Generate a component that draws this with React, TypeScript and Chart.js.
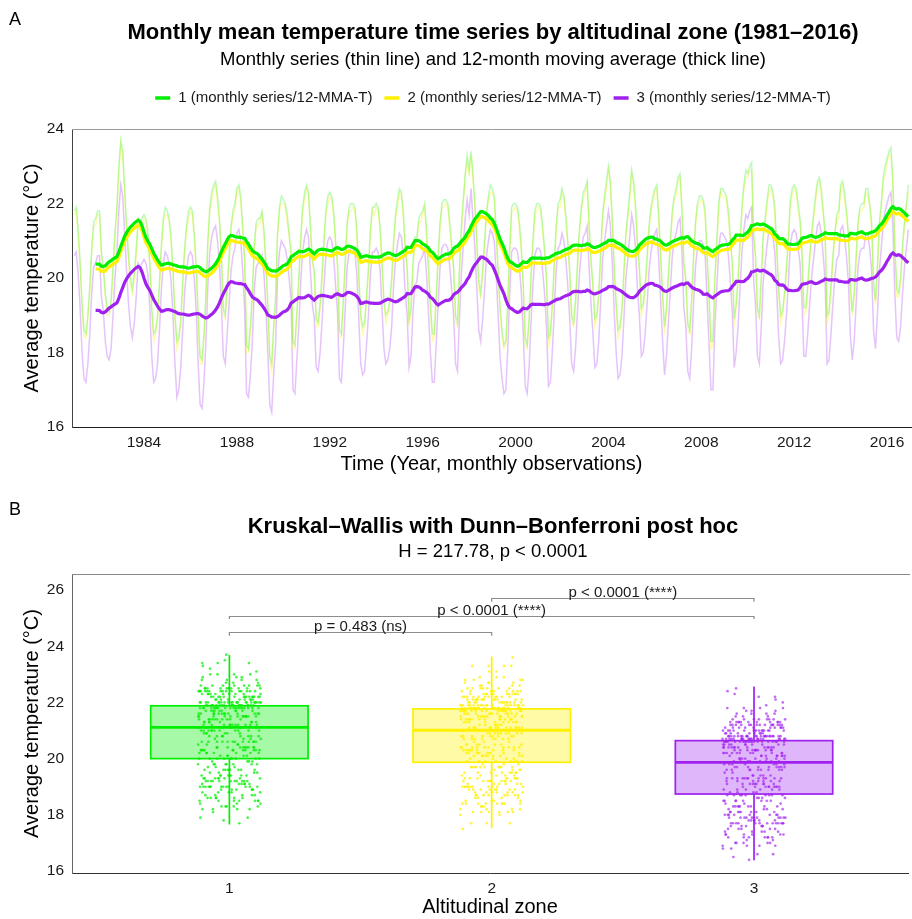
import React, { useEffect, useRef } from 'react';
import { Chart, registerables } from 'chart.js';

Chart.register(...registerables);

const FONT = "'Liberation Sans', Arial, Helvetica, sans-serif";
Chart.defaults.font.family = FONT;

// ---------- data ----------
const startYear = 1981;
const zoneNames = ['1', '2', '3'];
const legendSuffix = '(monthly series/12-MMA-T)';
const yearTicks = [1984, 1988, 1992, 1996, 2000, 2004, 2008, 2012, 2016];
const tempTicksA = [16, 18, 20, 22, 24];
const tempTicksB = [16, 18, 20, 22, 24, 26];
const zoneTicks = [1, 2, 3];

const titleA = 'Monthly mean temperature time series by altitudinal zone (1981–2016)';
const subtitleA = 'Monthly series (thin line) and 12-month moving average (thick line)';
const titleB = 'Kruskal–Wallis with Dunn–Bonferroni post hoc';
const subtitleB = 'H = 217.78, p < 0.0001';

// monthly mean temperature, Jan 1981 .. Dec 2016 (one row per year)
const zone1Monthly = [
  21.8, 21.9, 21.3, 20.4, 19.3, 18.6, 18.5, 19.0, 19.8, 20.8, 21.5, 21.6,
  21.8, 21.8, 20.7, 20.3, 19.6, 19.2, 19.1, 19.4, 20.3, 21.2, 21.9, 23.0,
  23.7, 23.4, 22.4, 21.4, 20.6, 20.0, 19.7, 20.1, 20.8, 21.6, 21.5, 21.6,
  21.7, 21.6, 21.3, 20.4, 19.2, 18.5, 18.6, 19.0, 19.9, 20.9, 21.6, 21.9,
  21.8, 21.6, 21.1, 20.2, 19.0, 18.3, 18.4, 18.9, 19.9, 20.8, 21.4, 21.8,
  21.9, 21.8, 21.2, 20.3, 19.0, 17.9, 17.8, 18.5, 19.6, 21.0, 21.9, 22.3,
  22.5, 22.6, 22.2, 21.6, 20.6, 19.2, 19.0, 19.8, 20.6, 21.4, 21.8, 22.0,
  22.4, 22.5, 22.2, 21.4, 20.5, 18.2, 18.1, 18.7, 19.6, 20.9, 21.5, 21.6,
  21.6, 21.8, 21.3, 20.4, 19.3, 17.9, 17.7, 18.7, 19.5, 21.2, 21.9, 22.2,
  22.1, 22.0, 21.7, 21.2, 20.7, 18.3, 18.2, 19.1, 20.0, 21.1, 21.9, 22.3,
  22.5, 22.3, 21.4, 20.5, 20.2, 18.9, 18.8, 19.3, 20.1, 21.0, 21.8, 22.2,
  22.3, 22.2, 21.8, 21.0, 20.4, 18.6, 18.5, 19.4, 20.5, 21.5, 21.9, 22.0,
  22.0, 21.9, 21.3, 20.1, 19.0, 18.7, 18.8, 19.5, 20.3, 21.3, 21.9, 21.9,
  22.0, 21.9, 21.4, 20.4, 19.4, 19.0, 19.1, 19.4, 20.0, 21.0, 21.7, 22.1,
  22.4, 22.3, 21.8, 20.8, 20.3, 18.9, 19.2, 20.4, 21.1, 21.1, 21.6, 21.7,
  21.8, 22.0, 21.3, 20.3, 19.3, 18.5, 18.5, 19.5, 20.6, 21.5, 22.0, 22.1,
  22.1, 22.0, 21.5, 20.9, 20.3, 19.0, 18.8, 20.2, 21.4, 22.1, 22.8, 23.3,
  22.9, 23.4, 22.8, 22.0, 21.0, 19.9, 19.6, 20.2, 21.0, 21.8, 22.2, 22.5,
  22.4, 22.2, 21.3, 20.2, 19.2, 18.6, 18.2, 18.3, 19.4, 20.8, 21.9, 22.0,
  22.0, 21.9, 21.5, 20.8, 19.8, 18.4, 18.2, 18.9, 20.1, 21.0, 21.8, 22.0,
  22.0, 21.9, 21.4, 20.8, 20.0, 18.4, 18.5, 19.3, 20.4, 21.4, 22.0, 22.1,
  22.4, 22.2, 21.7, 21.0, 20.2, 19.0, 18.8, 19.4, 20.4, 21.3, 21.9, 22.3,
  22.4, 22.6, 21.5, 20.5, 19.8, 18.9, 19.0, 19.6, 20.7, 21.7, 22.2, 22.6,
  23.0, 22.6, 21.6, 20.3, 19.3, 18.6, 18.7, 19.2, 20.2, 21.2, 21.7, 22.3,
  22.9, 22.6, 22.0, 20.9, 20.3, 19.2, 19.3, 19.8, 20.6, 21.4, 21.9, 22.2,
  22.4, 22.5, 21.7, 20.6, 19.6, 18.7, 19.2, 20.1, 21.0, 21.8, 22.2, 22.4,
  22.7, 22.8, 21.9, 20.4, 20.0, 18.8, 18.6, 19.4, 20.6, 21.5, 22.0, 22.2,
  22.2, 22.1, 21.8, 20.6, 19.5, 18.3, 18.3, 20.0, 21.0, 22.0, 22.4, 22.4,
  22.3, 22.2, 21.8, 21.1, 20.4, 18.9, 19.3, 20.0, 21.0, 21.9, 22.5, 22.9,
  22.8, 23.0, 23.1, 21.2, 20.6, 19.2, 19.0, 20.0, 21.2, 21.6, 22.1, 22.5,
  22.5, 22.3, 21.9, 20.8, 19.7, 19.0, 19.1, 19.6, 20.3, 21.1, 22.1, 22.4,
  22.5, 22.4, 22.0, 21.6, 20.7, 19.2, 19.2, 19.8, 20.6, 21.2, 21.7, 22.2,
  22.6, 22.7, 22.4, 21.8, 21.2, 19.0, 19.1, 19.8, 20.6, 21.2, 21.7, 21.8,
  22.5, 22.6, 22.3, 21.8, 21.2, 19.8, 19.1, 19.6, 20.6, 21.5, 21.9, 22.0,
  22.0, 22.4, 22.4, 22.0, 21.5, 19.9, 19.4, 20.3, 21.5, 22.0, 22.7, 23.0,
  23.2, 23.4, 23.5, 22.6, 20.9, 19.7, 19.6, 20.0, 20.9, 21.5, 22.0, 22.5,
];

const zone2Monthly = [
  21.7, 21.8, 21.1, 20.3, 19.2, 18.4, 18.4, 18.9, 19.6, 20.7, 21.4, 21.4,
  21.7, 21.7, 20.5, 20.2, 19.5, 19.0, 19.0, 19.3, 20.1, 21.1, 21.8, 22.8,
  23.6, 23.3, 22.2, 21.3, 20.5, 19.8, 19.6, 20.0, 20.6, 21.5, 21.4, 21.4,
  21.6, 21.5, 21.1, 20.3, 19.1, 18.3, 18.5, 18.9, 19.7, 20.8, 21.5, 21.7,
  21.7, 21.5, 20.9, 20.1, 18.9, 18.1, 18.3, 18.8, 19.7, 20.7, 21.3, 21.6,
  21.8, 21.7, 21.0, 20.2, 18.9, 17.7, 17.7, 18.4, 19.4, 20.9, 21.8, 22.1,
  22.4, 22.5, 22.0, 21.5, 20.5, 19.0, 18.9, 19.7, 20.4, 21.3, 21.7, 21.8,
  22.3, 22.4, 22.0, 21.3, 20.4, 18.0, 18.0, 18.6, 19.4, 20.8, 21.4, 21.4,
  21.5, 21.7, 21.1, 20.3, 19.2, 17.7, 17.5, 18.6, 19.3, 21.1, 21.8, 22.0,
  22.0, 21.9, 21.5, 21.1, 20.6, 18.1, 18.1, 19.0, 19.8, 21.0, 21.8, 22.1,
  22.4, 22.2, 21.2, 20.4, 20.1, 18.7, 18.7, 19.2, 19.9, 20.9, 21.7, 22.0,
  22.2, 22.1, 21.6, 20.9, 20.3, 18.4, 18.4, 19.3, 20.3, 21.4, 21.8, 21.8,
  21.9, 21.8, 21.1, 20.0, 18.9, 18.5, 18.7, 19.4, 20.1, 21.2, 21.8, 21.7,
  21.9, 21.8, 21.2, 20.3, 19.3, 18.8, 19.0, 19.3, 19.8, 20.9, 21.6, 21.9,
  22.3, 22.2, 21.6, 20.7, 20.2, 18.7, 19.1, 20.3, 20.9, 21.0, 21.5, 21.5,
  21.7, 21.9, 21.1, 20.2, 19.2, 18.3, 18.4, 19.4, 20.4, 21.4, 21.9, 21.9,
  22.0, 21.9, 21.3, 20.8, 20.2, 18.8, 18.7, 20.1, 21.2, 22.0, 22.7, 23.1,
  22.8, 23.3, 22.6, 21.9, 20.9, 19.7, 19.5, 20.1, 20.8, 21.7, 22.1, 22.3,
  22.3, 22.1, 21.1, 20.1, 19.1, 18.4, 18.1, 18.2, 19.2, 20.7, 21.8, 21.8,
  21.9, 21.8, 21.3, 20.7, 19.7, 18.2, 18.1, 18.8, 19.9, 20.9, 21.7, 21.8,
  21.9, 21.8, 21.2, 20.7, 19.9, 18.2, 18.4, 19.2, 20.2, 21.3, 21.9, 21.9,
  22.3, 22.1, 21.5, 20.9, 20.1, 18.8, 18.7, 19.3, 20.2, 21.2, 21.8, 22.1,
  22.3, 22.5, 21.3, 20.4, 19.7, 18.7, 18.9, 19.5, 20.5, 21.6, 22.1, 22.4,
  22.9, 22.5, 21.4, 20.2, 19.2, 18.4, 18.6, 19.1, 20.0, 21.1, 21.6, 22.1,
  22.8, 22.5, 21.8, 20.8, 20.2, 19.0, 19.2, 19.7, 20.4, 21.3, 21.8, 22.0,
  22.3, 22.4, 21.5, 20.5, 19.5, 18.5, 19.1, 20.0, 20.8, 21.7, 22.1, 22.2,
  22.6, 22.7, 21.7, 20.3, 19.9, 18.6, 18.5, 19.3, 20.4, 21.4, 21.9, 22.0,
  22.1, 22.0, 21.6, 20.5, 19.4, 18.1, 18.2, 19.9, 20.8, 21.9, 22.3, 22.2,
  22.2, 22.1, 21.6, 21.0, 20.3, 18.7, 19.2, 19.9, 20.8, 21.8, 22.4, 22.7,
  22.7, 22.9, 22.9, 21.1, 20.5, 19.0, 18.9, 19.9, 21.0, 21.5, 22.0, 22.3,
  22.4, 22.2, 21.7, 20.7, 19.6, 18.8, 19.0, 19.5, 20.1, 21.0, 22.0, 22.2,
  22.4, 22.3, 21.8, 21.5, 20.6, 19.0, 19.1, 19.7, 20.4, 21.1, 21.6, 22.0,
  22.5, 22.6, 22.2, 21.7, 21.1, 18.8, 19.0, 19.7, 20.4, 21.1, 21.6, 21.6,
  22.4, 22.5, 22.1, 21.7, 21.1, 19.6, 19.0, 19.5, 20.4, 21.4, 21.8, 21.8,
  21.9, 22.3, 22.2, 21.9, 21.4, 19.7, 19.3, 20.2, 21.3, 21.9, 22.6, 22.8,
  23.1, 23.3, 23.3, 22.5, 20.8, 19.5, 19.5, 19.9, 20.7, 21.4, 21.9, 22.3,
];

const zone3Monthly = [
  20.6, 20.7, 20.1, 19.2, 18.0, 17.3, 17.2, 17.7, 18.5, 19.6, 20.3, 20.4,
  20.6, 20.6, 19.5, 19.1, 18.3, 17.9, 17.8, 18.1, 19.0, 20.0, 20.7, 21.8,
  22.5, 22.2, 21.2, 20.2, 19.3, 18.7, 18.4, 18.8, 19.5, 20.4, 20.3, 20.4,
  20.5, 20.4, 20.1, 19.2, 17.9, 17.2, 17.3, 17.7, 18.6, 19.7, 20.4, 20.7,
  20.6, 20.4, 19.9, 19.0, 17.7, 16.8, 17.0, 17.6, 18.6, 19.6, 20.2, 20.6,
  20.7, 20.6, 20.0, 19.1, 17.7, 16.6, 16.5, 17.2, 18.3, 19.8, 20.7, 21.1,
  21.3, 21.4, 21.0, 20.4, 19.3, 17.9, 17.7, 18.5, 19.3, 20.2, 20.6, 20.8,
  21.2, 21.3, 21.0, 20.2, 19.2, 16.9, 16.8, 17.4, 18.3, 19.7, 20.3, 20.4,
  20.4, 20.6, 20.1, 19.2, 18.0, 16.6, 16.4, 17.4, 18.2, 20.0, 20.7, 21.0,
  20.9, 20.8, 20.5, 20.0, 19.4, 17.0, 16.9, 17.8, 18.7, 19.9, 20.7, 21.1,
  21.3, 21.1, 20.2, 19.3, 18.9, 17.6, 17.5, 18.0, 18.8, 19.8, 20.6, 21.0,
  21.1, 21.0, 20.6, 19.8, 19.1, 17.3, 17.2, 18.1, 19.2, 20.3, 20.7, 20.8,
  20.8, 20.7, 20.1, 18.9, 17.7, 17.4, 17.5, 18.2, 19.0, 20.1, 20.7, 20.7,
  20.8, 20.7, 20.2, 19.2, 18.1, 17.7, 17.8, 18.1, 18.7, 19.8, 20.5, 20.9,
  21.2, 21.1, 20.6, 19.6, 19.0, 17.6, 17.9, 19.1, 19.8, 19.9, 20.4, 20.5,
  20.6, 20.8, 20.1, 19.1, 18.0, 17.2, 17.2, 18.2, 19.3, 20.3, 20.8, 20.9,
  20.9, 20.8, 20.3, 19.7, 19.0, 17.7, 17.5, 18.9, 20.1, 20.9, 21.6, 22.1,
  21.7, 22.4, 21.6, 20.8, 19.7, 18.6, 18.3, 18.9, 19.7, 20.6, 21.0, 21.3,
  21.2, 21.0, 20.1, 19.0, 17.9, 17.3, 16.9, 17.0, 18.1, 19.6, 20.7, 20.8,
  20.8, 20.7, 20.3, 19.6, 18.5, 17.1, 16.9, 17.6, 18.8, 19.8, 20.6, 20.8,
  20.8, 20.7, 20.2, 19.6, 18.7, 17.1, 17.2, 18.0, 19.1, 20.2, 20.8, 20.9,
  21.2, 21.0, 20.5, 19.8, 18.9, 17.7, 17.5, 18.1, 19.1, 20.1, 20.7, 21.1,
  21.2, 21.4, 20.3, 19.3, 18.5, 17.6, 17.7, 18.3, 19.4, 20.5, 21.0, 21.4,
  21.8, 21.4, 20.4, 19.1, 18.0, 17.3, 17.4, 17.9, 18.9, 20.0, 20.5, 21.1,
  21.7, 21.4, 20.8, 19.7, 19.0, 17.9, 18.0, 18.5, 19.3, 20.2, 20.7, 21.0,
  21.2, 21.3, 20.5, 19.4, 18.3, 17.4, 17.9, 18.8, 19.7, 20.6, 21.0, 21.2,
  21.5, 21.6, 20.7, 19.2, 18.7, 17.5, 17.3, 18.1, 19.3, 20.3, 20.8, 21.0,
  21.0, 20.9, 20.6, 19.4, 18.2, 17.0, 17.0, 18.7, 19.7, 20.8, 21.2, 21.2,
  21.1, 21.0, 20.6, 19.9, 19.1, 17.6, 18.0, 18.7, 19.7, 20.7, 21.3, 21.7,
  21.6, 21.8, 21.9, 20.0, 19.3, 17.9, 17.7, 18.7, 19.9, 20.4, 20.9, 21.3,
  21.3, 21.1, 20.7, 19.6, 18.4, 17.7, 17.8, 18.3, 19.0, 19.9, 20.9, 21.2,
  21.3, 21.2, 20.8, 20.4, 19.4, 17.9, 17.9, 18.5, 19.3, 20.0, 20.5, 21.0,
  21.4, 21.5, 21.2, 20.6, 19.9, 17.7, 17.8, 18.5, 19.3, 20.0, 20.5, 20.6,
  21.3, 21.4, 21.1, 20.6, 19.9, 18.5, 17.8, 18.3, 19.3, 20.3, 20.7, 20.8,
  20.8, 21.2, 21.2, 20.8, 20.2, 18.6, 18.1, 19.0, 20.2, 20.8, 21.5, 21.8,
  22.0, 22.2, 22.3, 21.4, 19.6, 18.4, 18.3, 18.7, 19.6, 20.3, 20.8, 21.3,
];

// boxplot statistics per zone
const boxLow = [17.66, 17.52, 16.38];
const boxQ1 = [20.0, 19.87, 18.74];
const boxMedian = [21.11, 21.01, 19.87];
const boxQ3 = [21.88, 21.77, 20.64];
const boxHigh = [23.69, 23.63, 22.57];

// Dunn–Bonferroni comparison brackets
const bracketFrom = [1, 1, 2];
const bracketTo = [2, 3, 3];
const bracketY = [24.49, 25.09, 25.7];
const bracketLabels = ['p = 0.483 (ns)', 'p < 0.0001 (****)', 'p < 0.0001 (****)'];

// ---------- styles ----------
const zoneColors = ['#00EE00', '#FFF000', '#A020F0'];
const thinColors = ['rgba(0,238,0,0.26)', 'rgba(255,240,0,0.32)', 'rgba(160,32,240,0.27)'];
const pointColors = ['rgba(0,238,0,0.7)', 'rgba(255,240,0,0.75)', 'rgba(160,32,240,0.65)'];
const boxFills = ['rgba(0,238,0,0.35)', 'rgba(255,240,0,0.35)', 'rgba(160,32,240,0.33)'];
const BOX_HALF = 0.3;
const JITTER = 0.24;

const allMonthly = [zone1Monthly, zone2Monthly, zone3Monthly];

function monthX(i: number) {
  return startYear + i / 12;
}

function movingAverage(arr: number[]) {
  const out: { x: number; y: number }[] = [];
  for (let i = 11; i < arr.length; i++) {
    let s = 0;
    for (let k = i - 11; k <= i; k++) s += arr[k];
    out.push({ x: monthX(i), y: s / 12 });
  }
  return out;
}

// deterministic horizontal spread (low-discrepancy sequence) for the jittered points
function jitterOffset(i: number, zone: number) {
  const u = ((i + 1) * 0.6180339887 + zone * 0.3819660113) % 1;
  return (u - 0.5) * JITTER;
}

const tickFont = { size: 15.5, family: FONT };
const axisTitleFont = { size: 20, family: FONT };

const topDecor = {
  id: 'topDecor',
  afterDraw(chart: any) {
    const { ctx, chartArea } = chart;
    ctx.save();
    ctx.strokeStyle = '#9a9a9a';
    ctx.lineWidth = 1;
    ctx.beginPath();
    ctx.moveTo(chartArea.left, chartArea.top + 0.5);
    ctx.lineTo(chartArea.right + 2, chartArea.top + 0.5);
    ctx.stroke();

    ctx.fillStyle = '#000';
    ctx.textBaseline = 'middle';
    ctx.textAlign = 'left';
    ctx.font = `18px ${FONT}`;
    ctx.fillText('A', 9, 20);
    ctx.textAlign = 'center';
    ctx.font = `bold 22px ${FONT}`;
    ctx.fillText(titleA, 493, 33);
    ctx.font = `18.5px ${FONT}`;
    ctx.fillText(subtitleA, 493, 60);

    // legend
    ctx.font = `15px ${FONT}`;
    const labels = zoneNames.map((z) => `${z} ${legendSuffix}`);
    const keyW = 15, gapKT = 8, gapItems = 12, ly = 98;
    const widths = labels.map((l) => ctx.measureText(l).width);
    const total = widths.reduce((a, w) => a + keyW + gapKT + w, 0) + gapItems * (labels.length - 1);
    let x = 493 - total / 2;
    ctx.textAlign = 'left';
    labels.forEach((l, i) => {
      ctx.strokeStyle = zoneColors[i];
      ctx.lineWidth = 3.5;
      ctx.beginPath();
      ctx.moveTo(x, ly);
      ctx.lineTo(x + keyW, ly);
      ctx.stroke();
      ctx.fillStyle = '#1a1a1a';
      ctx.fillText(l, x + keyW + gapKT, ly);
      x += keyW + gapKT + widths[i] + gapItems;
    });
    ctx.restore();
  },
};

const bottomDecor = {
  id: 'bottomDecor',
  afterDatasetsDraw(chart: any) {
    const { ctx } = chart;
    const xs = chart.scales.x;
    const ys = chart.scales.y;
    ctx.save();
    for (let z = 0; z < 3; z++) {
      const cx = xs.getPixelForValue(z + 1);
      const xl = xs.getPixelForValue(z + 1 - BOX_HALF);
      const xr = xs.getPixelForValue(z + 1 + BOX_HALF);
      const yLow = ys.getPixelForValue(boxLow[z]);
      const yQ1 = ys.getPixelForValue(boxQ1[z]);
      const yMed = ys.getPixelForValue(boxMedian[z]);
      const yQ3 = ys.getPixelForValue(boxQ3[z]);
      const yHigh = ys.getPixelForValue(boxHigh[z]);
      ctx.strokeStyle = zoneColors[z];
      ctx.lineWidth = 1.7;
      ctx.beginPath();
      ctx.moveTo(cx, yHigh);
      ctx.lineTo(cx, yQ3);
      ctx.moveTo(cx, yQ1);
      ctx.lineTo(cx, yLow);
      ctx.stroke();
      ctx.fillStyle = boxFills[z];
      ctx.fillRect(xl, yQ3, xr - xl, yQ1 - yQ3);
      ctx.lineWidth = 1.7;
      ctx.strokeRect(xl, yQ3, xr - xl, yQ1 - yQ3);
      ctx.lineWidth = 2.8;
      ctx.beginPath();
      ctx.moveTo(xl, yMed);
      ctx.lineTo(xr, yMed);
      ctx.stroke();
    }
    // brackets
    ctx.strokeStyle = '#8c8c8c';
    ctx.lineWidth = 1.2;
    ctx.font = `15px ${FONT}`;
    ctx.fillStyle = '#1a1a1a';
    ctx.textAlign = 'center';
    ctx.textBaseline = 'alphabetic';
    for (let b = 0; b < bracketY.length; b++) {
      const x1 = xs.getPixelForValue(bracketFrom[b]);
      const x2 = xs.getPixelForValue(bracketTo[b]);
      const y = Math.round(ys.getPixelForValue(bracketY[b])) + 0.5;
      const yt = ys.getPixelForValue(bracketY[b] - 0.12);
      ctx.beginPath();
      ctx.moveTo(x1, yt);
      ctx.lineTo(x1, y);
      ctx.lineTo(x2, y);
      ctx.lineTo(x2, yt);
      ctx.stroke();
      ctx.fillText(bracketLabels[b], (x1 + x2) / 2, y - 1.5);
    }
    ctx.restore();
  },
  afterDraw(chart: any) {
    const { ctx, chartArea } = chart;
    ctx.save();
    ctx.strokeStyle = '#8a8a8a';
    ctx.lineWidth = 1;
    ctx.beginPath();
    ctx.moveTo(chartArea.left, chartArea.top + 0.5);
    ctx.lineTo(chartArea.right + 2, chartArea.top + 0.5);
    ctx.stroke();
    ctx.fillStyle = '#000';
    ctx.textBaseline = 'middle';
    ctx.textAlign = 'left';
    ctx.font = `18px ${FONT}`;
    ctx.fillText('B', 9, 30);
    ctx.textAlign = 'center';
    ctx.font = `bold 22px ${FONT}`;
    ctx.fillText(titleB, 493, 47);
    ctx.font = `18.5px ${FONT}`;
    ctx.fillText(subtitleB, 493, 72);
    ctx.restore();
  },
};

function TopChart() {
  const ref = useRef<HTMLCanvasElement>(null);
  useEffect(() => {
    if (!ref.current) return;
    const datasets: any[] = [];
    allMonthly.forEach((arr, z) => {
      datasets.push({
        label: `${zoneNames[z]} 12-MMA`,
        data: movingAverage(arr),
        borderColor: zoneColors[z],
        borderWidth: 3.2,
        pointRadius: 0,
        tension: 0,
        order: z,
      });
    });
    allMonthly.forEach((arr, z) => {
      datasets.push({
        label: `${zoneNames[z]} monthly`,
        data: arr.map((v, i) => ({ x: monthX(i), y: v })),
        borderColor: thinColors[z],
        borderWidth: 1.5,
        pointRadius: 0,
        tension: 0,
        order: 3 + z,
      });
    });
    const chart = new Chart(ref.current, {
      type: 'line',
      data: { datasets },
      plugins: [topDecor],
      options: {
        animation: false,
        responsive: false,
        events: [],
        parsing: false,
        normalized: true,
        layout: { padding: { top: 129, right: 1, left: 0, bottom: 0 } },
        plugins: { legend: { display: false }, tooltip: { enabled: false }, title: { display: false } },
        scales: {
          x: {
            type: 'linear',
            min: 1980.9,
            max: 2017.03,
            grid: { display: false, drawTicks: false },
            border: { display: true, color: '#222', width: 1 },
            ticks: { font: tickFont, color: '#1a1a1a', padding: 6, autoSkip: false, maxRotation: 0, callback: (v: any) => String(v) },
            afterBuildTicks: (s: any) => { s.ticks = yearTicks.map((v) => ({ value: v })); },
            afterFit: (s: any) => { s.height = 53; },
            title: { display: true, text: 'Time (Year, monthly observations)', font: axisTitleFont, color: '#000', padding: { top: 0, bottom: 4 } },
          },
          y: {
            type: 'linear',
            min: 16,
            max: 24,
            grid: { display: false, drawTicks: false },
            border: { display: true, color: '#444', width: 1 },
            ticks: { font: tickFont, color: '#1a1a1a', padding: 8, callback: (v: any) => String(v) },
            afterBuildTicks: (s: any) => { s.ticks = tempTicksA.map((v) => ({ value: v })); },
            afterFit: (s: any) => { s.width = 72; },
            title: { display: true, text: 'Average temperature (°C)', font: axisTitleFont, color: '#000', padding: { top: 20, bottom: 0 } },
          },
        },
      } as any,
    });
    return () => chart.destroy();
  }, []);
  return <canvas ref={ref} width={912} height={480} style={{ display: 'block', width: 912, height: 480 }} />;
}

function BottomChart() {
  const ref = useRef<HTMLCanvasElement>(null);
  useEffect(() => {
    if (!ref.current) return;
    const datasets = allMonthly.map((arr, z) => ({
      label: `Zone ${zoneNames[z]}`,
      data: arr.map((v, i) => ({ x: z + 1 + jitterOffset(i, z), y: v })),
      pointRadius: 1.35,
      pointBackgroundColor: pointColors[z],
      pointBorderWidth: 0,
      showLine: false,
    }));
    const chart = new Chart(ref.current, {
      type: 'scatter',
      data: { datasets },
      plugins: [bottomDecor],
      options: {
        animation: false,
        responsive: false,
        events: [],
        layout: { padding: { top: 94, right: 1, left: 0, bottom: 0 } },
        plugins: { legend: { display: false }, tooltip: { enabled: false }, title: { display: false } },
        scales: {
          x: {
            type: 'linear',
            min: 0.4,
            max: 3.587,
            grid: { display: false, drawTicks: false },
            border: { display: true, color: '#333', width: 1 },
            ticks: { font: tickFont, color: '#1a1a1a', padding: 6, autoSkip: false, maxRotation: 0, callback: (v: any) => String(v) },
            afterBuildTicks: (s: any) => { s.ticks = zoneTicks.map((v) => ({ value: v })); },
            afterFit: (s: any) => { s.height = 46; },
            title: { display: true, text: 'Altitudinal zone', font: axisTitleFont, color: '#000', padding: { top: 0, bottom: 0 } },
          },
          y: {
            type: 'linear',
            min: 15.93,
            max: 26.57,
            grid: { display: false, drawTicks: false },
            border: { display: true, color: '#666', width: 1 },
            ticks: { font: tickFont, color: '#1a1a1a', padding: 8, callback: (v: any) => String(v) },
            afterBuildTicks: (s: any) => { s.ticks = tempTicksB.map((v) => ({ value: v })); },
            afterFit: (s: any) => { s.width = 72; },
            title: { display: true, text: 'Average temperature (°C)', font: axisTitleFont, color: '#000', padding: { top: 20, bottom: 0 } },
          },
        },
      } as any,
    });
    return () => chart.destroy();
  }, []);
  return <canvas ref={ref} width={912} height={439} style={{ display: 'block', width: 912, height: 439 }} />;
}

export default function App() {
  return (
    <div style={{ position: 'fixed', left: 0, top: 0, width: 912, height: 919, overflow: 'hidden', background: '#fff' }}>
      <TopChart />
      <BottomChart />
    </div>
  );
}
